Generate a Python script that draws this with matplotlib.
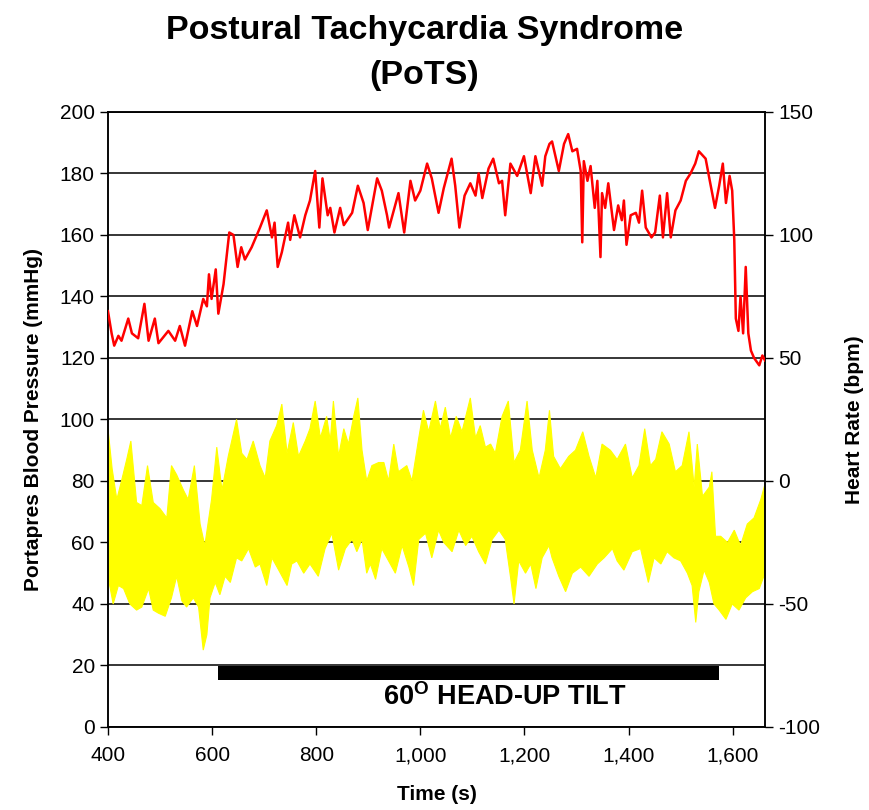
import numpy as np
import matplotlib
matplotlib.use("Agg")
import matplotlib.pyplot as plt
from matplotlib.ticker import FuncFormatter

plt.rcParams['font.family'] = ['Liberation Sans', 'DejaVu Sans']
plt.rcParams['mathtext.fontset'] = 'custom'
plt.rcParams['mathtext.rm'] = 'Liberation Sans'
plt.rcParams['mathtext.bf'] = 'Liberation Sans:bold'
plt.rcParams['axes.unicode_minus'] = False

# heart rate (bpm), right axis
hr_time = [400, 407, 412, 420, 426, 439, 446, 458, 470, 478, 490, 497, 516, 529, 538, 548, 562, 571, 583, 590,
           594, 599, 607, 612, 622, 633, 641, 649, 656, 663, 676, 692, 705, 715, 720, 726, 734, 746, 750, 758,
           769, 779, 788, 798, 806, 812, 822,
           827, 835, 846, 853, 869, 880, 891, 899, 917, 926, 936, 940, 949, 958, 969, 981, 990, 1000, 1013, 1022,
           1035, 1045, 1060, 1067, 1075, 1085, 1096, 1106, 1112, 1119, 1131, 1140, 1151, 1157, 1163, 1173, 1186,
           1199, 1212, 1221, 1234, 1240, 1248,
           1253, 1266, 1276, 1284, 1292, 1301, 1308, 1311, 1314, 1321, 1327, 1335, 1340, 1346, 1349, 1355, 1361,
           1372, 1380, 1387, 1391, 1396, 1404, 1414, 1420, 1426, 1433, 1444, 1451, 1460, 1466, 1474, 1481, 1490,
           1500, 1510, 1519, 1528, 1535, 1548, 1556, 1566, 1574, 1581, 1587, 1594, 1599, 1603, 1606, 1611, 1615,
           1620, 1625, 1630, 1635, 1641, 1651, 1657, 1662]
hr_bpm = [69, 60, 55, 59, 57, 66, 60, 58, 72, 57, 66, 56, 61, 57, 63, 55, 69, 63, 74, 71,
          84, 74, 86, 68, 80, 101, 100, 87, 95, 90, 95, 103, 110, 99, 105, 87, 93, 105, 98, 108,
          99, 108, 114, 126, 103, 123, 108,
          111, 101, 111, 104, 109, 120, 113, 102, 123, 118, 108, 103, 110, 117, 101, 122, 114, 118, 129, 123,
          109, 119, 131, 120, 103, 116, 121, 116, 125, 115, 127, 131, 121, 122, 108, 129, 124,
          132, 117, 132, 120, 132, 137,
          138, 126, 137, 141, 134, 135, 126, 97, 130, 122, 128, 111, 122, 91, 117, 111, 121,
          102, 112, 106, 114, 96, 108, 109, 105, 118, 103, 99, 101, 116, 99, 117, 99, 110,
          114, 122, 125, 129, 134, 131, 122, 111, 120, 129, 113, 124, 118, 98, 66, 61, 75,
          60, 87, 60, 53, 50, 47, 51, 49]

# portapres blood pressure (mmHg), beat-to-beat upper / lower envelope, left axis
sys_time = [400, 408, 417, 426, 436, 444, 455, 465, 476, 487, 500, 513, 522, 532, 545, 554, 566, 577, 586, 599,
            609, 619, 631, 647, 657, 667, 679, 692, 702, 711, 724, 734, 744, 756, 766, 779, 788, 798, 808, 820,
            827, 833, 843, 853, 862, 872, 880, 888, 897, 907, 920, 930, 939, 949, 958, 974, 984, 997, 1006, 1016,
            1029, 1038, 1048, 1058, 1069, 1080, 1096, 1106, 1115, 1125, 1135, 1144, 1157, 1169, 1180, 1192, 1205,
            1215, 1228, 1240,
            1248, 1256, 1269, 1285, 1298, 1312, 1324, 1337, 1349, 1365, 1378, 1394, 1407, 1420, 1431, 1442, 1452,
            1464, 1478, 1490, 1503, 1516, 1526, 1532, 1542, 1555, 1560, 1567, 1577, 1590, 1603, 1615, 1628, 1641,
            1654, 1662]
sys_bp = [97, 84, 74, 80, 87, 93, 73, 72, 85, 73, 71, 68, 85, 82, 77, 74, 85, 66, 59, 74,
          91, 77, 88, 100, 89, 87, 93, 85, 81, 93, 98, 105, 89, 99, 88, 93, 97, 106, 94, 101,
          93, 106, 88, 97, 92, 101, 107, 90, 80, 85, 86, 86, 80, 92, 83, 85, 80, 94, 103, 96,
          106, 97, 104, 94, 101, 96, 107, 94, 98, 91, 92, 89, 101, 106, 86, 90, 106,
          90, 81, 90,
          103, 88, 84, 88, 90, 96, 88, 81, 92, 90, 87, 92, 81, 85, 97, 85, 87,
          96, 92, 83, 85, 96, 78, 92, 75, 78, 83, 62, 62, 60, 64, 59, 66, 68,
          74, 79]
dia_time = [400, 410, 420, 430, 442, 455, 465, 478, 487, 497, 510, 522, 532, 542, 551, 564, 574, 583, 590, 596,
            606, 615, 625, 635, 647, 657, 670, 683, 692, 705, 715, 728, 744, 753, 763, 776, 788, 804, 817,
            830, 843, 856, 869, 878, 888, 897, 904, 914, 926, 939, 952, 965, 978, 987, 997, 1010, 1022, 1035, 1045,
            1061, 1074, 1087, 1099, 1112, 1125, 1138, 1151, 1163, 1173, 1180, 1189, 1202, 1212, 1222, 1234, 1247,
            1253, 1266, 1279, 1292, 1308, 1324, 1340, 1353, 1369, 1378, 1391, 1407, 1423, 1438, 1449, 1462, 1474,
            1487, 1500, 1513, 1522, 1529, 1535, 1545, 1555, 1564, 1574, 1587, 1599, 1612, 1625, 1638, 1651, 1662]
dia_bp = [49, 40, 46, 45, 40, 38, 39, 45, 38, 37, 36, 42, 49, 41, 39, 42, 39, 25, 30, 42,
          47, 43, 49, 47, 55, 54, 58, 52, 53, 46, 55, 51, 46, 53, 54, 50, 53, 49, 58,
          63, 51, 58, 61, 57, 61, 50, 53, 48, 58, 54, 50, 59, 52, 46, 61, 63, 55, 64, 60,
          57, 64, 59, 62, 57, 53, 61, 64, 61, 49, 40, 54, 50, 53, 45, 55, 59,
          55, 49, 44, 50, 52, 49, 53, 55, 58, 54, 51, 57, 58, 47, 55, 53, 57,
          55, 54, 50, 46, 34, 44, 51, 47, 40, 38, 35, 40, 38, 42, 44, 45, 50]

tilt_start = 611
tilt_end = 1574

fig = plt.figure(figsize=(8.7, 8.1), dpi=100)
ax = fig.add_axes([0.1241, 0.1025, 0.7552, 0.7593])

# blood pressure band
poly_x = np.concatenate([sys_time, dia_time[::-1]])
poly_y = np.concatenate([sys_bp, dia_bp[::-1]])
ax.fill(poly_x, poly_y, color='#ffff00', edgecolor='#ffff00', lw=0.8, zorder=2)

# tilt bar + label
ax.barh(17.6, tilt_end - tilt_start, left=tilt_start, height=4.6, color='black', zorder=3)
ax.text(1162, 9.8, r"60$^{\mathbf{O}}$ HEAD-UP TILT", fontsize=19.5, fontweight='bold',
        ha='center', va='center', zorder=3)

ax.set_xlim(400, 1662)
ax.set_ylim(0, 200)
ax.set_yticks(range(0, 201, 20))
ax.set_xticks(range(400, 1601, 200))
ax.xaxis.set_major_formatter(FuncFormatter(lambda v, p: f"{int(v):,}"))
ax.grid(axis='y', color='black', lw=1.1)
ax.set_axisbelow(True)
ax.tick_params(labelsize=15, length=6, width=1)
ax.tick_params(axis='x', pad=8)
ax.set_ylabel("Portapres Blood Pressure (mmHg)", fontsize=15, fontweight='bold', labelpad=12)
ax.set_xlabel("Time (s)", fontsize=15, fontweight='bold', labelpad=14)

ax2 = ax.twinx()
ax2.plot(hr_time, hr_bpm, color='#ff0000', lw=1.8, zorder=4)
ax2.set_ylim(-100, 150)
ax2.set_yticks(range(-100, 151, 50))
ax2.tick_params(labelsize=15, length=6, width=1)
ax2.set_ylabel("Heart Rate (bpm)", fontsize=15, fontweight='bold', labelpad=18)

for a in (ax, ax2):
    for s in a.spines.values():
        s.set_linewidth(1.1)

fig.text(0.488, 0.981, "Postural Tachycardia Syndrome\n(PoTS)", fontsize=24.5, fontweight='bold',
         ha='center', va='top', linespacing=1.55)

fig.savefig("out.png", dpi=100)
